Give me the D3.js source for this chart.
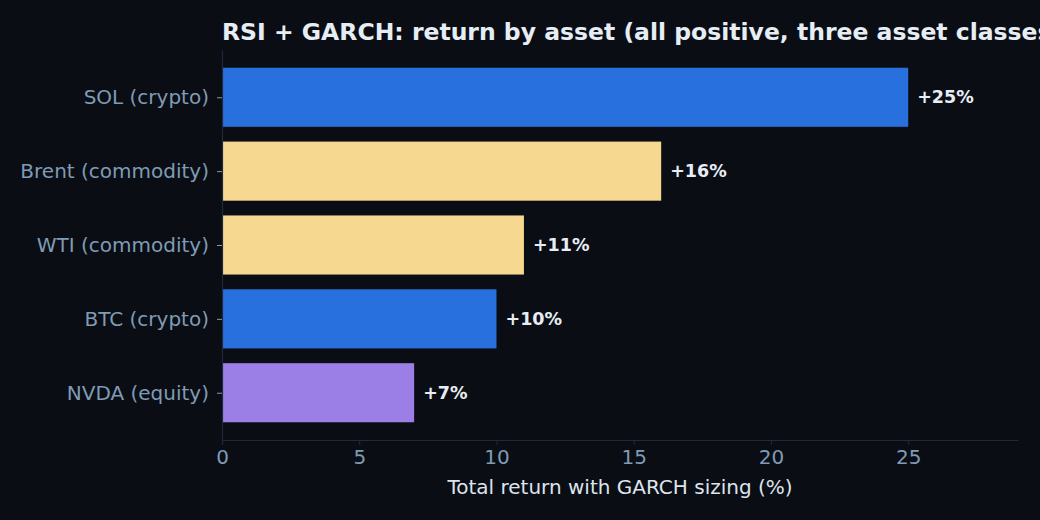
<!DOCTYPE html>
<html>
<head>
<meta charset="utf-8">
<script src="https://cdn.jsdelivr.net/npm/d3@7"></script>
<style>
    html, body { margin: 0; padding: 0; background: #0a0d14; }
    svg { display: block; font-family: "DejaVu Sans", sans-serif; }
</style>
</head>
<body>
<div id="chart"></div>
<script>
// data, top to bottom
const assets = ["SOL (crypto)", "Brent (commodity)", "WTI (commodity)", "BTC (crypto)", "NVDA (equity)"];
const returns = [25, 16, 11, 10, 7];
const assetClass = ["crypto", "commodity", "commodity", "crypto", "equity"];
const classColors = {crypto: "#2870de", commodity: "#f7d891", equity: "#9b7fe6"};
const xTicks = [0, 5, 10, 15, 20, 25];

const W = 1040, H = 520;
const margin = {top: 50, right: 22, bottom: 80, left: 222};

const svg = d3.select("#chart").append("svg")
    .attr("width", W)
    .attr("height", H);

svg.append("rect").attr("width", W).attr("height", H).attr("fill", "#0a0d14");

const x = d3.scaleLinear()
    .domain([0, 29])
    .range([margin.left, W - margin.right]);

// matplotlib style: bars of height 0.8 with 5% margins
const y = d3.scaleLinear()
    .domain([-0.64, assets.length - 1 + 0.64])
    .range([margin.top, H - margin.bottom]);
const barH = y(0.8) - y(0);

// bars
svg.append("g").selectAll("rect")
    .data(assets)
    .join("rect")
    .attr("x", x(0))
    .attr("y", (d, i) => y(i - 0.4))
    .attr("width", (d, i) => x(returns[i]) - x(0))
    .attr("height", barH)
    .attr("fill", (d, i) => classColors[assetClass[i]]);

// value labels
svg.append("g").selectAll("text")
    .data(assets)
    .join("text")
    .attr("x", (d, i) => x(returns[i]) + 9)
    .attr("y", (d, i) => y(i))
    .attr("dy", "0.33em")
    .attr("fill", "#e8edf5")
    .attr("font-weight", "bold")
    .attr("font-size", 17.5)
    .text((d, i) => "+" + returns[i] + "%");

// x axis
const xAxis = svg.append("g")
    .attr("transform", "translate(0," + (H - margin.bottom) + ")")
    .call(d3.axisBottom(x).tickValues(xTicks).tickSize(5).tickPadding(5).tickSizeOuter(0));
xAxis.select(".domain").attr("stroke", "#1f2b3d").attr("stroke-width", 1.2);
xAxis.selectAll(".tick line").attr("stroke", "#1f2b3d");
xAxis.selectAll(".tick text")
    .attr("fill", "#7f9bb5")
    .attr("font-size", 20)
    .attr("font-family", "DejaVu Sans");

// y axis
const yAxis = svg.append("g")
    .attr("transform", "translate(" + margin.left + ",0)")
    .call(d3.axisLeft(y).tickValues(d3.range(assets.length)).tickFormat(i => assets[i])
        .tickSize(5).tickPadding(8).tickSizeOuter(0));
yAxis.select(".domain").attr("stroke", "#1f2b3d").attr("stroke-width", 1.2);
yAxis.selectAll(".tick line").attr("stroke", "#7f9bb5");
yAxis.selectAll(".tick text")
    .attr("fill", "#7f9bb5")
    .attr("font-size", 20)
    .attr("font-family", "DejaVu Sans");

// axis label
svg.append("text")
    .attr("x", (x.range()[0] + x.range()[1]) / 2)
    .attr("y", 494)
    .attr("text-anchor", "middle")
    .attr("fill", "#dde4ee")
    .attr("font-size", 20)
    .text("Total return with GARCH sizing (%)");

// title
svg.append("text")
    .attr("x", margin.left)
    .attr("y", 40)
    .attr("fill", "#e6edf5")
    .attr("font-weight", "bold")
    .attr("font-size", 23.5)
    .text("RSI + GARCH: return by asset (all positive, three asset classes)");
</script>
</body>
</html>
